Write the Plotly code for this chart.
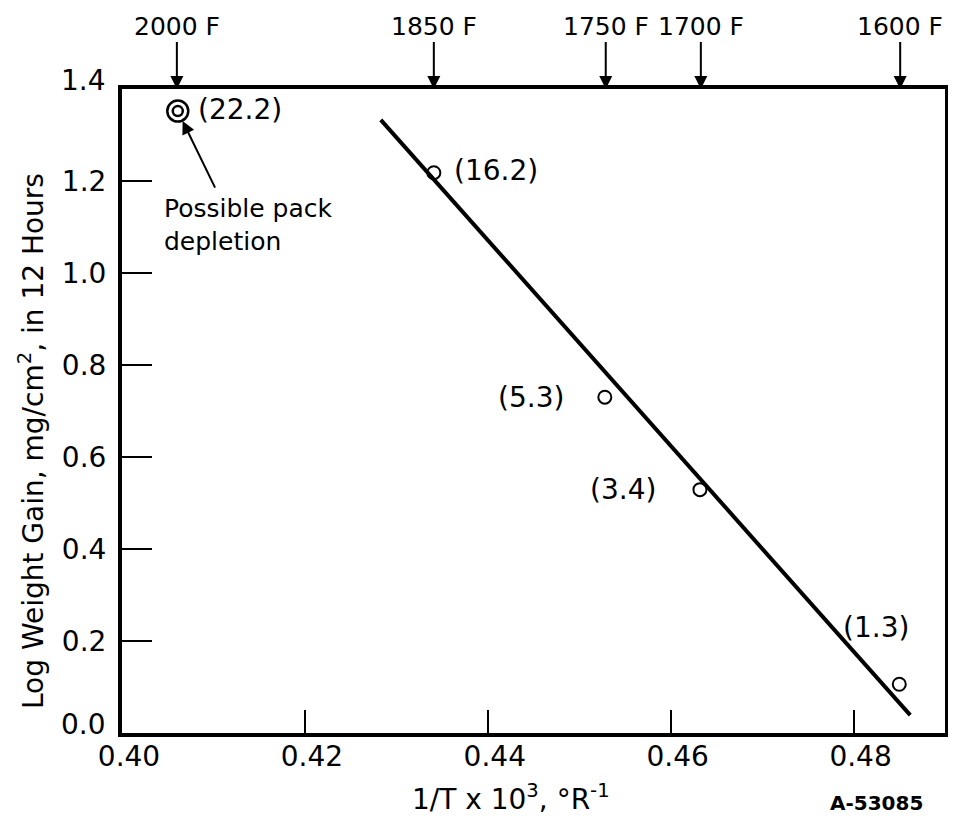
import plotly.graph_objects as go

# Data
pt_x = [0.4341, 0.4528, 0.4632, 0.4850]
pt_y = [1.218, 0.730, 0.529, 0.106]
pt_labels = ["(16.2)", "(5.3)", "(3.4)", "(1.3)"]

outlier_x = [0.4061]
outlier_y = [1.352]
outlier_label = "(22.2)"

fit_x = [0.4283, 0.4862]
fit_y = [1.333, 0.039]

temp_labels = ["2000 F", "1850 F", "1750 F", "1700 F", "1600 F"]
temp_x = [0.4060, 0.4341, 0.4529, 0.4633, 0.4851]

x_ticks = [0.40, 0.42, 0.44, 0.46, 0.48]
y_ticks = [0.0, 0.2, 0.4, 0.6, 0.8, 1.0, 1.2, 1.4]

FONT = "DejaVu Sans"
FS = 28
BLACK = "black"

# page offset (browser body margin) compensation
OFF = 8
W, H = 956 - OFF, 820 - OFF
L, T = 122 - OFF, 89 - OFF
R = W - (945 - OFF)
B = H - (733 - OFF)
pw, ph = W - L - R, H - T - B


def px(xp):  # page pixel -> paper x
    return (xp - OFF - L) / pw


def py(yp):  # page pixel -> paper y
    return (H - B - (yp - OFF)) / ph


fig = go.Figure()
fig.add_trace(go.Scatter(x=fit_x, y=fit_y, mode="lines",
                         line=dict(color=BLACK, width=4), hoverinfo="skip"))
fig.add_trace(go.Scatter(x=pt_x, y=pt_y, mode="markers",
                         marker=dict(symbol="circle-open", size=13, color=BLACK,
                                     line=dict(width=2, color=BLACK))))
fig.add_trace(go.Scatter(x=outlier_x, y=outlier_y, mode="markers",
                         marker=dict(symbol="circle-open", size=21, color=BLACK,
                                     line=dict(width=2.5, color=BLACK))))
fig.add_trace(go.Scatter(x=outlier_x, y=outlier_y, mode="markers",
                         marker=dict(symbol="circle-open", size=10, color=BLACK,
                                     line=dict(width=2.5, color=BLACK))))

tf = dict(size=FS, family=FONT, color=BLACK)
ann = []
# point labels: (xanchor, xshift, yshift)
offsets = [("left", 18, 2), ("right", -39, 0), ("right", -42, 0), ("right", 12, 57)]
for x, y, t, (xa, dx, dy) in zip(pt_x, pt_y, pt_labels, offsets):
    ann.append(dict(x=x, y=y, text=t, showarrow=False, xanchor=xa, yanchor="middle",
                    xshift=dx, yshift=dy, font=tf))
ann.append(dict(x=outlier_x[0], y=outlier_y[0], text=outlier_label, showarrow=False,
                xanchor="left", yanchor="middle", xshift=18, yshift=2, font=tf))
# pack depletion arrow + text
ann.append(dict(x=outlier_x[0], y=outlier_y[0], text="", showarrow=True,
                arrowhead=2, arrowsize=1.3, arrowwidth=2, arrowcolor=BLACK,
                ax=38, ay=78, standoff=11))
ann.append(dict(x=px(162), y=py(225), xref="paper", yref="paper",
                text="Possible pack<br>depletion", showarrow=False,
                xanchor="left", yanchor="middle", align="left",
                font=dict(size=25, family=FONT, color=BLACK)))
# top temperature arrows
for t, x in zip(temp_labels, temp_x):
    ann.append(dict(x=x, y=1.4, xref="x", yref="y", text=t, showarrow=True,
                    arrowhead=2, arrowsize=1.3, arrowwidth=2, arrowcolor=BLACK,
                    ax=0, ay=-63, standoff=0,
                    font=dict(size=25, family=FONT, color=BLACK)))
# end y tick labels (raised slightly, as in the original)
for v in (y_ticks[0], y_ticks[-1]):
    ann.append(dict(x=0, y=v, xref="paper", yref="y", text=f"{v:.1f}", showarrow=False,
                    xanchor="right", yanchor="middle", xshift=-14, yshift=9, font=tf))
# axis titles and figure id
ann.append(dict(x=px(511), y=py(797), xref="paper", yref="paper",
                text="1/T x 10<sup>3</sup>, °R<sup>-1</sup>", showarrow=False,
                xanchor="center", yanchor="middle", font=tf))
ann.append(dict(x=px(32), y=py(441), xref="paper", yref="paper",
                text="Log Weight Gain, mg/cm<sup>2</sup>, in 12 Hours", showarrow=False,
                textangle=-90, xanchor="center", yanchor="middle", font=tf))
ann.append(dict(x=px(876), y=py(803), xref="paper", yref="paper",
                text="<b>A-53085</b>", showarrow=False,
                xanchor="center", yanchor="middle",
                font=dict(size=20, family=FONT, color=BLACK)))

y_text = [f"{v:.1f}" for v in y_ticks]
y_text[0] = ""
y_text[-1] = ""

fig.update_layout(
    width=W, height=H,
    margin=dict(l=L, r=R, t=T, b=B),
    paper_bgcolor="white", plot_bgcolor="white",
    showlegend=False,
    font=dict(family=FONT, size=FS, color=BLACK),
    annotations=ann,
    xaxis=dict(range=[0.40, 0.49], tickvals=x_ticks,
               ticktext=[f"{v:.2f}" for v in x_ticks],
               ticks="inside", ticklen=23, tickwidth=2, tickcolor=BLACK,
               showline=True, linewidth=4, linecolor=BLACK, mirror=True,
               showgrid=False, zeroline=False, ticklabelstandoff=-5,
               ticklabelshift=7,
               automargin=False, tickfont=tf),
    yaxis=dict(range=[0, 1.4], tickvals=y_ticks, ticktext=y_text,
               ticks="inside", ticklen=30, tickwidth=2, tickcolor=BLACK,
               showline=True, linewidth=4, linecolor=BLACK, mirror=True,
               showgrid=False, zeroline=False, ticklabelstandoff=6,
               automargin=False, tickfont=tf),
)

fig.write_html("out.html")
